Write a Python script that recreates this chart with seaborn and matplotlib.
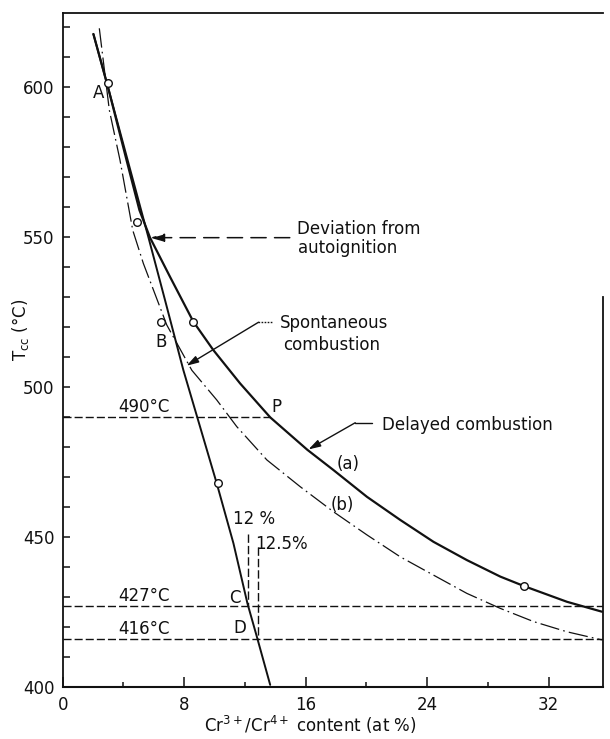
import matplotlib
matplotlib.use("Agg")
import matplotlib.pyplot as plt
import seaborn as sns
import pandas as pd

# ---------------- data ----------------
# curve (a): delayed combustion (solid, thick)
curve_a_x = [2.02, 3.0, 4.2, 5.05, 5.75, 7.07, 8.6, 9.92, 11.68, 13.66, 16.1, 17.83,
             20.03, 22.22, 24.41, 26.61, 28.81, 30.39, 33.2, 35.5]
curve_a_y = [617.6, 599.5, 575.6, 558.9, 549.7, 536.6, 521.7, 512.2, 501.1, 489.8, 479.0, 472.2,
             463.3, 455.6, 448.3, 442.2, 436.7, 433.5, 428.3, 425.0]

# spontaneous combustion line (solid, steep)
steep_x = [2.02, 3.0, 5.65, 6.73, 7.94, 9.04, 10.14, 11.24, 12.16, 12.78, 13.66]
steep_y = [617.6, 599.5, 549.7, 529.0, 505.6, 486.7, 467.8, 447.8, 427.8, 416.7, 400.6]

# curve (b): dash-dot
curve_b_x = [2.41, 3.07, 3.77, 4.61, 5.31, 6.85, 8.5, 10.14, 11.46, 13.44, 15.63, 17.83,
             20.03, 22.22, 24.41, 26.61, 28.81, 31.0, 33.2, 35.5]
curve_b_y = [619.5, 592.2, 575.6, 552.2, 541.1, 520.6, 505.5, 495.6, 486.7, 475.6, 466.7, 458.3,
             450.6, 443.3, 437.2, 431.1, 426.1, 421.7, 418.3, 415.6]

# measured points (open circles)
pts_x = [3.0, 4.87, 6.5, 8.6, 10.25, 30.39]
pts_y = [601.3, 555.0, 521.5, 521.7, 467.8, 433.5]

# horizontal reference temperatures and where each dashed line ends
ref_temps = [490, 427, 416]
ref_ends = [13.66, 35.55, 35.55]
ref_labels = ["490°C", "427°C", "416°C"]

# vertical composition markers (12 %, 12.5 %)
vmark_x = [12.2, 12.85]
vmark_top = [451.0, 446.7]
vmark_bottom = [427.0, 416.0]
vmark_labels = ["12 %", "12.5%"]

x_major = [0, 8, 16, 24, 32]
x_minor = [4, 12, 20, 28]
y_major = [400, 450, 500, 550, 600]
y_minor = [410, 420, 430, 440, 460, 470, 480, 490, 510, 520, 530, 540, 560, 570, 580, 590, 610, 620]

# ---------------- styling ----------------
sns.set_style("ticks", {"xtick.direction": "in", "ytick.direction": "in"})
plt.rcParams["font.family"] = ["DejaVu Sans"]
plt.rcParams["mathtext.fontset"] = "dejavusans"
plt.rcParams["lines.scale_dashes"] = False
plt.rcParams["font.size"] = 12

K = "#111111"
fig = plt.figure(figsize=(6.1, 7.39), dpi=100)
ax = fig.add_axes([0.1028, 0.0708, 0.8852, 0.9120])

dash_h = (0, (5.8, 2.2))

# reference horizontal dashed lines
for t, xe in zip(ref_temps, ref_ends):
    ax.plot([0, xe], [t, t], color=K, lw=1.0, linestyle=dash_h)

# curves
sns.lineplot(x=curve_b_x, y=curve_b_y, sort=False, estimator=None, ax=ax, color=K,
             lw=0.9, linestyle=(0, (14, 3, 1.2, 3)))
sns.lineplot(x=steep_x, y=steep_y, sort=False, estimator=None, ax=ax, color=K, lw=1.4)
sns.lineplot(x=curve_a_x, y=curve_a_y, sort=False, estimator=None, ax=ax, color=K, lw=1.6)

# measured points
sns.scatterplot(x=pts_x, y=pts_y, ax=ax, s=30, facecolor="white", edgecolor=K,
                linewidth=1.0, zorder=5)

# vertical composition markers
for xv, yt, yb in zip(vmark_x, vmark_top, vmark_bottom):
    ax.plot([xv, xv], [yt, yb], color=K, lw=1.0, linestyle=(0, (6, 2.2)))

# ---------------- text ----------------
fs = 12
for t, lab in zip(ref_temps, ref_labels):
    ax.text(5.35, t + 3.3, lab, ha="center", va="center", fontsize=fs, color=K)
ax.text(12.6, 455.8, vmark_labels[0], ha="center", va="center", fontsize=fs, color=K)
ax.text(12.67, 447.6, vmark_labels[1], ha="left", va="center", fontsize=fs, color=K)

ax.text(2.33, 598.0, "A", ha="center", va="center", fontsize=fs, color=K)
ax.text(6.45, 515.0, "B", ha="center", va="center", fontsize=fs, color=K)
ax.text(11.35, 429.5, "C", ha="center", va="center", fontsize=fs, color=K)
ax.text(11.68, 419.4, "D", ha="center", va="center", fontsize=fs, color=K)
ax.text(14.1, 493.1, "P", ha="center", va="center", fontsize=fs, color=K)
ax.text(18.8, 474.4, "(a)", ha="center", va="center", fontsize=fs, color=K)
ax.text(18.4, 460.6, "(b)", ha="center", va="center", fontsize=fs, color=K)

# deviation from autoignition
ax.text(15.4, 552.6, "Deviation from", ha="left", va="center", fontsize=fs, color=K)
ax.text(15.5, 546.2, "autoignition", ha="left", va="center", fontsize=fs, color=K)
ax.annotate("", xy=(5.75, 549.7), xytext=(14.95, 549.7),
            arrowprops=dict(arrowstyle="-|>,head_length=0.7,head_width=0.2",
                            color=K, lw=1.1, linestyle=(0, (11, 6)),
                            shrinkA=0, shrinkB=0))

# spontaneous combustion
ax.text(14.3, 521.1, "Spontaneous", ha="left", va="center", fontsize=fs, color=K)
ax.text(14.53, 513.9, "combustion", ha="left", va="center", fontsize=fs, color=K)
ax.plot([12.89, 13.8], [521.5, 521.5], color=K, lw=1.0, linestyle=(0, (1.2, 1.0)))
ax.annotate("", xy=(8.15, 507.0), xytext=(12.89, 521.5),
            arrowprops=dict(arrowstyle="-|>,head_length=0.6,head_width=0.18",
                            color=K, lw=1.0, shrinkA=0, shrinkB=0))

# delayed combustion
ax.text(21.0, 487.4, "Delayed combustion", ha="left", va="center", fontsize=fs, color=K)
ax.plot([19.26, 20.36], [488.0, 488.0], color=K, lw=1.0)
ax.annotate("", xy=(16.18, 479.1), xytext=(19.26, 488.0),
            arrowprops=dict(arrowstyle="-|>,head_length=0.6,head_width=0.18",
                            color=K, lw=1.0, shrinkA=0, shrinkB=0))

# ---------------- axes ----------------
ax.set_xlim(0, 35.55)
ax.set_ylim(400, 624.7)
ax.set_xticks(x_major)
ax.set_xticks(x_minor, minor=True)
ax.set_yticks(y_major)
ax.set_yticks(y_minor, minor=True)
ax.set_xticklabels([str(v) for v in x_major], fontsize=fs)
ax.set_yticklabels([str(v) for v in y_major], fontsize=fs)
ax.tick_params(axis="x", which="major", direction="in", length=7.2, width=1.1, pad=6.5, colors=K)
ax.tick_params(axis="x", which="minor", direction="in", length=3.6, width=1.1, colors=K)
ax.tick_params(axis="y", which="both", direction="in", length=5.0, width=1.1, pad=6, colors=K)

for side in ["top", "left", "bottom", "right"]:
    ax.spines[side].set_color(K)
    ax.spines[side].set_linewidth(1.3)
ax.spines["bottom"].set_linewidth(1.5)
ax.spines["right"].set_bounds(400, 530)

ax.set_xlabel(r"Cr$^{3+}$/Cr$^{4+}$ content (at %)", fontsize=fs, color=K, va="center")
ax.xaxis.set_label_coords(0.459, -0.057)
ax.set_ylabel(r"T$_{\rm cc}$ (°C)", fontsize=fs, color=K, va="center")
ax.yaxis.set_label_coords(-0.078, 0.529)

fig.savefig("out.png", dpi=100, facecolor="white")
